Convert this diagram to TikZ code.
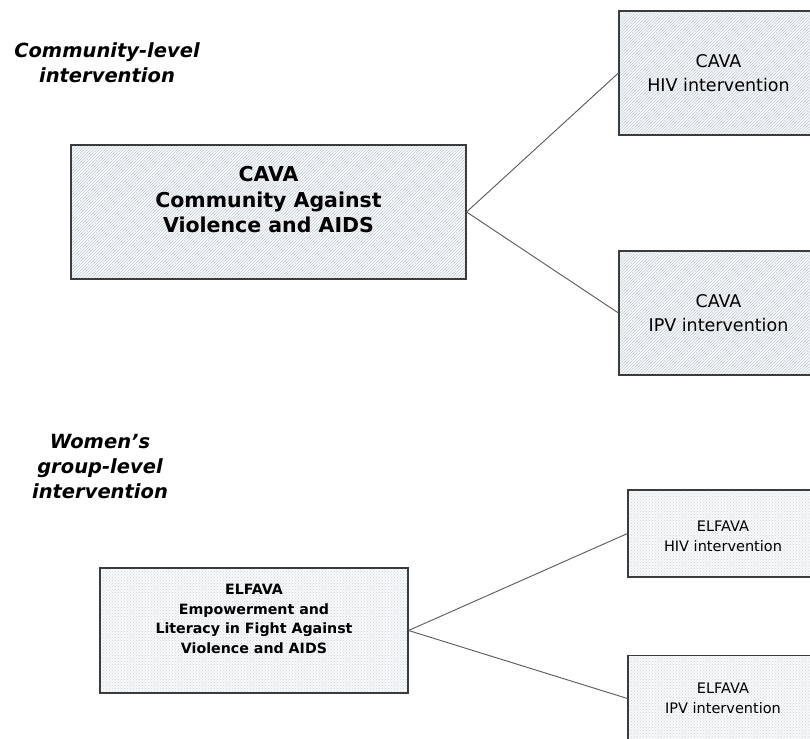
\documentclass[tikz,border=0pt]{standalone}
\usepackage{fontspec}
\setmainfont{DejaVu Sans}
\usetikzlibrary{patterns}
\definecolor{hatchbg}{RGB}{245,247,249}
\definecolor{hatchln}{RGB}{202,211,217}
\definecolor{dotbg}{RGB}{247,249,250}
\definecolor{dotln}{RGB}{205,212,216}
\definecolor{edge}{RGB}{60,60,60}
\tikzset{
  hatchbox/.style={draw=edge, line width=1.1pt, rectangle, align=center, inner sep=0pt,
    preaction={fill=hatchbg}, pattern=north east lines, pattern color=hatchln},
  dotbox/.style={draw=edge, line width=1.1pt, rectangle, align=center, inner sep=0pt,
    preaction={fill=dotbg}, pattern=crosshatch dots, pattern color=dotln},
  boxtext/.style={align=center, inner sep=0pt},
  link/.style={draw=edge!85, line width=0.9pt},
  levellabel/.style={align=center, font=\bfseries\itshape\fontsize{19.5}{25}\selectfont, inner sep=0pt}
}
\begin{document}
\begin{tikzpicture}[x=1pt, y=-1pt]
\useasboundingbox (0,0) rectangle (810,738);
\clip (0,0) rectangle (810,738);
\fill[white] (0,0) rectangle (810,738);

\node[levellabel] (lab1) at (107,63) {Community-level\\intervention};
\node[levellabel] (lab2) at (100,467) {Women's\\group-level\\intervention};

\node[hatchbox, minimum width=395pt, minimum height=134pt] (cava) at (268.5,212) {};
\node[boxtext, font=\bfseries\fontsize{20.5}{25.5}\selectfont] (cavatxt) at (268.5,200)
  {CAVA\\Community Against\\Violence and AIDS};
\node[hatchbox, minimum width=199pt, minimum height=124pt,
  font=\fontsize{17.5}{23.5}\selectfont] (cavahiv) at (718.5,73)
  {CAVA\\HIV intervention};
\node[hatchbox, minimum width=199pt, minimum height=124pt,
  font=\fontsize{17.5}{23.5}\selectfont] (cavaipv) at (718.5,313)
  {CAVA\\IPV intervention};

\node[dotbox, minimum width=308pt, minimum height=125pt] (elf) at (254,630.5) {};
\node[boxtext, font=\bfseries\fontsize{14.2}{19.7}\selectfont] (elftxt) at (254,619)
  {ELFAVA\\Empowerment and\\Literacy in Fight Against\\Violence and AIDS};
\node[dotbox, minimum width=190pt, minimum height=87pt] (elfhiv) at (723,533.5) {};
\node[boxtext, font=\fontsize{14.5}{20}\selectfont] (elfhivtxt) at (723,536)
  {ELFAVA\\HIV intervention};
\node[dotbox, minimum width=190pt, minimum height=86pt,
  font=\fontsize{14.5}{20}\selectfont] (elfipv) at (723,698.5)
  {ELFAVA\\IPV intervention};

\draw[link] (cava.east) -- (cavahiv.west);
\draw[link] (cava.east) -- (cavaipv.west);
\draw[link] (elf.east) -- (elfhiv.west);
\draw[link] (elf.east) -- (elfipv.west);
\end{tikzpicture}
\end{document}
